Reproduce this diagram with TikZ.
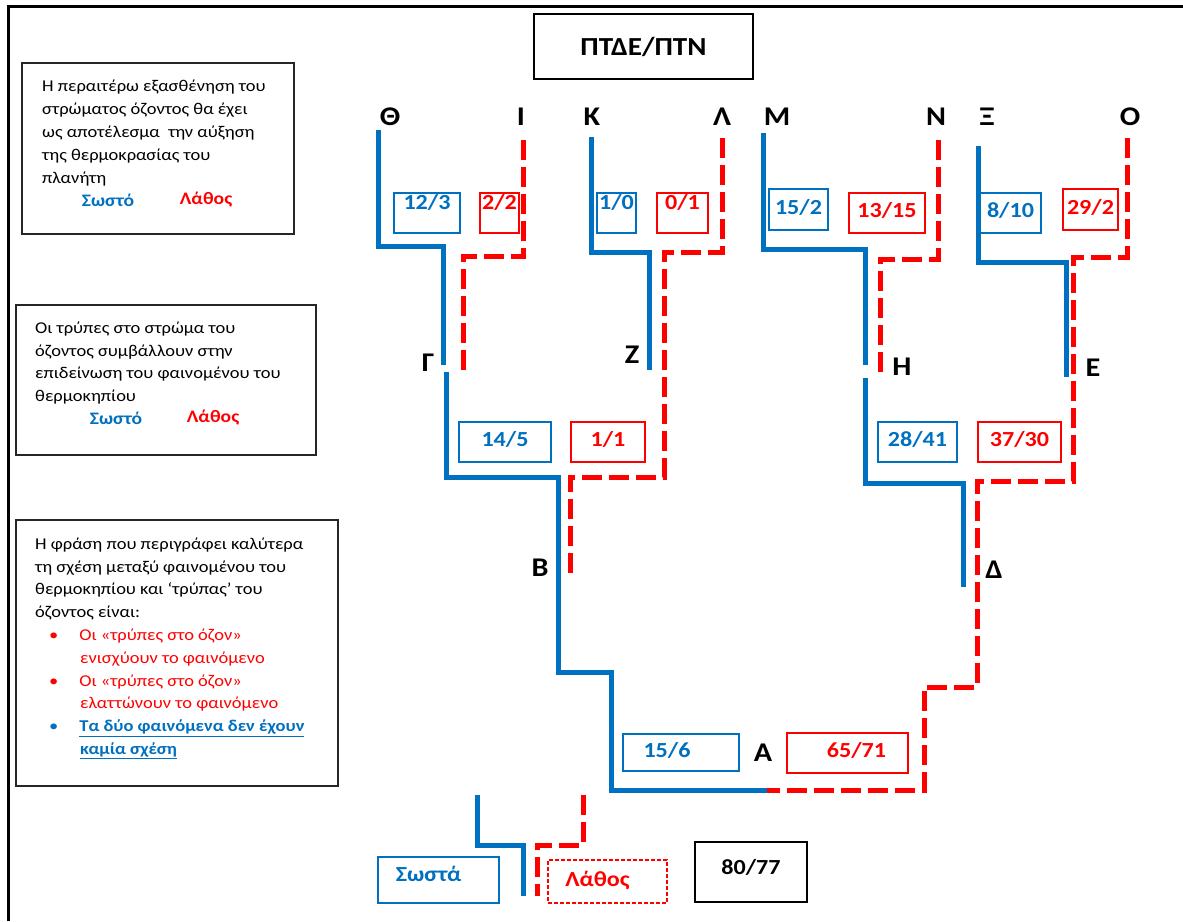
\documentclass[tikz,border=0pt]{standalone}
\usepackage{fontspec}
\setmainfont{Carlito}[FakeStretch=1.12]
\usetikzlibrary{positioning}
\definecolor{ozblue}{RGB}{0,112,192}
\definecolor{ozred}{RGB}{255,0,0}

\begin{document}
\begin{tikzpicture}[x=1pt,y=-1pt,
  bline/.style={draw=ozblue, line width=5pt},
  rline/.style={draw=ozred, line width=5pt, dash pattern=on 20pt off 7pt},
  numbox/.style={line width=1.2pt, inner sep=0pt, text depth=6pt, font=\fontsize{21.5}{24}\selectfont\bfseries},
  bbox/.style={numbox, draw=ozblue, text=ozblue},
  rbox/.style={numbox, draw=ozred, text=ozred},
  letter/.style={inner sep=0pt, font=\fontsize{27}{30}\selectfont\bfseries},
  qframe/.style={draw=black!85, line width=1.8pt, inner sep=0pt, anchor=north west},
  qtext/.style={inner sep=0pt, anchor=north west, align=left, font=\fontsize{16.5}{22.8}\selectfont},
  yes/.style={inner sep=0pt, text=ozblue, font=\fontsize{17.5}{20}\selectfont\bfseries},
  no/.style={inner sep=0pt, text=ozred, font=\fontsize{17.5}{20}\selectfont\bfseries}]
\useasboundingbox (0,0) rectangle (1183,921);
\draw[line width=3pt] (8,921) -- (8,6) -- (1183,6);

\node[draw, line width=1.5pt, minimum width=219, minimum height=65, font=\fontsize{26}{30}\selectfont\bfseries] (title) at (643.5,46.5) {ΠΤΔΕ/ΠΤΝ};

\node[qframe, minimum width=272, minimum height=171] (q1box) at (21,62) {};
\node[qtext] (q1text) at (42,80) {Η περαιτέρω εξασθένηση του\\στρώματος όζοντος θα έχει\\ως αποτέλεσμα\ \ την αύξηση\\της θερμοκρασίας του\\πλανήτη};
\node[yes] (q1yes) at (108,200) {Σωστό};
\node[no] (q1no) at (206,200) {Λάθος};

\node[qframe, minimum width=300, minimum height=150] (q2box) at (15,304) {};
\node[qtext] (q2text) at (35,321.5) {Οι τρύπες στο στρώμα του\\όζοντος συμβάλλουν στην\\επιδείνωση του φαινομένου του\\θερμοκηπίου};
\node[yes] (q2yes) at (116,418) {Σωστό};
\node[no] (q2no) at (213,418) {Λάθος};

\node[qframe, minimum width=322, minimum height=266] (q3box) at (15,519) {};
\node[qtext] (q3text) at (35,537.5) {Η φράση που περιγράφει καλύτερα\\τη σχέση μεταξύ φαινομένου του\\θερμοκηπίου και ‘τρύπας’ του\\όζοντος είναι:\\
\hspace*{14pt}\textcolor{ozred}{•}\hspace*{21pt}\textcolor{ozred}{Οι «τρύπες στο όζον»}\\
\hspace*{45pt}\textcolor{ozred}{ενισχύουν το φαινόμενο}\\
\hspace*{14pt}\textcolor{ozred}{•}\hspace*{21pt}\textcolor{ozred}{Οι «τρύπες στο όζον»}\\
\hspace*{45pt}\textcolor{ozred}{ελαττώνουν το φαινόμενο}\\
\hspace*{14pt}\textcolor{ozblue}{•}\hspace*{21pt}\textcolor{ozblue}{\bfseries\underline{Τα δύο φαινόμενα δεν έχουν}}\\
\hspace*{45pt}\textcolor{ozblue}{\bfseries\underline{καμία σχέση}}};

\node[letter] (th) at (390,117) {Θ};
\node[letter] (io) at (521,117) {Ι};
\node[letter] (ka) at (592,117) {Κ};
\node[letter] (la) at (722,117) {Λ};
\node[letter] (mu) at (777,117) {Μ};
\node[letter] (nu) at (936,117) {Ν};
\node[letter] (xi) at (987,117) {Ξ};
\node[letter] (om) at (1130,117) {Ο};
\node[letter] (ga) at (428,363) {Γ};
\node[letter] (ze) at (632,355) {Ζ};
\node[letter] (et) at (902,367) {Η};
\node[letter] (ep) at (1093,368) {Ε};
\node[letter] (be) at (540,568) {Β};
\node[letter] (de) at (994,570) {Δ};
\node[letter] (al) at (763,753) {Α};

\node[bbox, minimum width=66, minimum height=40, text depth=22pt] (b123) at (427,213) {12/3};
\node[rbox, minimum width=39, minimum height=40, text depth=22pt] (r22) at (499.5,213) {2/2};
\node[bbox, minimum width=39, minimum height=40, text depth=22pt] (b10) at (616.5,213) {1/0};
\node[rbox, minimum width=51, minimum height=40, text depth=22pt] (r01) at (682.5,213) {0/1};
\node[bbox, minimum width=59, minimum height=41] (b152) at (798.5,209.5) {15/2};
\node[rbox, minimum width=76, minimum height=40] (r1315) at (887,213) {13/15};
\node[bbox, minimum width=61, minimum height=40] (b810) at (1010.5,213) {8/10};
\node[rbox, minimum width=55, minimum height=41] (r292) at (1090.5,209.5) {29/2};
\node[bbox, minimum width=92, minimum height=40] (b145) at (505,442) {14/5};
\node[rbox, minimum width=74, minimum height=40] (r11) at (608,442) {1/1};
\node[bbox, minimum width=79, minimum height=40] (b2841) at (917.5,442) {28/41};
\node[rbox, minimum width=83, minimum height=40] (r3730) at (1019.5,442) {37/30};
\node[bbox, minimum width=116, minimum height=37] (b156) at (681,752.5) {15/6\hspace*{28pt}};
\node[rbox, minimum width=121, minimum height=40] (r6571) at (847.5,753) {\hspace*{18pt}65/71};

\draw[bline] (378,130) -- (378,246) -- (443,246) -- (443,365);
\draw[bline] (446,372) -- (446,477) -- (558,477) -- (558,672) -- (611,672) -- (611,790) -- (767,790);
\draw[rline] (523,140) -- (523,256) -- (463,256) -- (463,375);
\draw[bline] (591,137) -- (591,252) -- (649,252) -- (649,370);
\draw[rline] (722,138) -- (722,252) -- (664,252) -- (664,477) -- (570,477) -- (570,580);
\draw[bline] (763,133) -- (763,249) -- (865,249) -- (865,365);
\draw[bline] (865,378) -- (865,483) -- (963,483) -- (963,587);
\draw[rline] (938,140) -- (938,259) -- (880,259) -- (880,378);
\draw[bline] (978,146) -- (978,262) -- (1066,262) -- (1066,377);
\draw[rline] (1127,138) -- (1127,257) -- (1073,257) -- (1073,481) -- (977,481) -- (977,687) -- (924,687) -- (924,790) -- (767,790);

\draw[bline] (477,795) -- (477,845) -- (523,845) -- (523,896);
\draw[rline] (583,795) -- (583,845) -- (537,845) -- (537,896);
\node[bbox, minimum width=121, minimum height=46, text depth=12pt] (yesbox) at (438.5,880) {Σωστά\hspace*{20pt}};
\node[rbox, dash pattern=on 4pt off 2pt, minimum width=119, minimum height=43] (nobox) at (607.5,881.5) {Λάθος\hspace*{20pt}};
\node[numbox, draw, minimum width=112, minimum height=60, text depth=10pt] (total) at (751,872) {80/77};
\end{tikzpicture}
\end{document}
